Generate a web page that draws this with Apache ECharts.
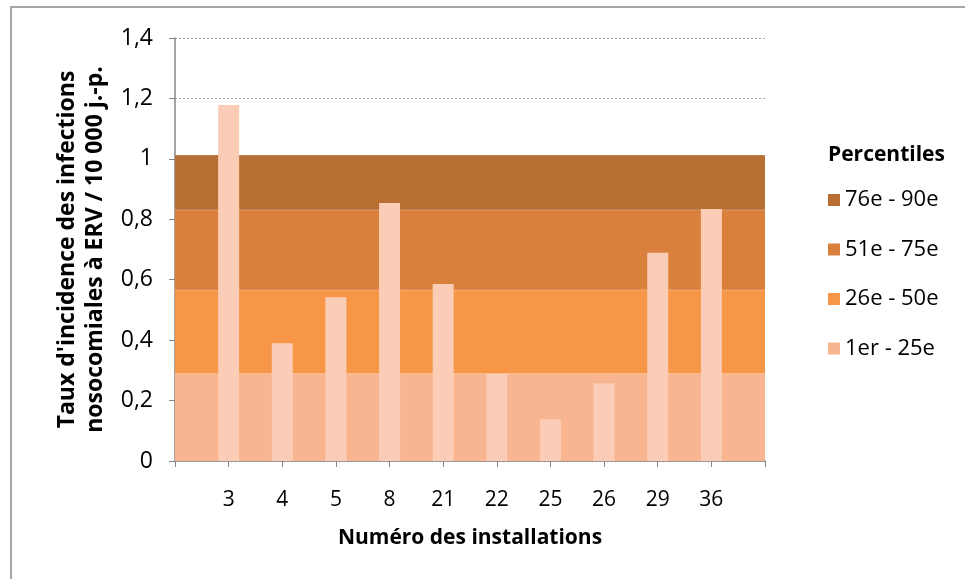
<!DOCTYPE html>
<html><head><meta charset="utf-8">
<script src="https://cdn.jsdelivr.net/npm/echarts@6/dist/echarts.min.js"></script>
<style>html,body{margin:0;padding:0;background:#fff}#c{width:965px;height:579px}</style>
</head><body><div id="c"></div>
<script>
var categories = ['', '3', '4', '5', '8', '21', '22', '25', '26', '29', '36', ''];
var rates = [null, 1.178, 0.39, 0.542, 0.854, 0.586, 0.288, 0.138, 0.257, 0.689, 0.834, null];
var bandNames = ['1er - 25e', '26e - 50e', '51e - 75e', '76e - 90e'];
var bandTops = [0.289, 0.566, 0.831, 1.013];
var bandColors = ['#F8B590', '#F79646', '#D9803D', '#B86F33'];
var yTicks = [0, 0.2, 0.4, 0.6, 0.8, 1, 1.2, 1.4];

var font = '"Open Sans", "Noto Sans", sans-serif';
var chart = echarts.init(document.getElementById('c'));
var series = [];
bandNames.forEach(function (n, i) {
  var thick = bandTops[i] - (i ? bandTops[i - 1] : 0);
  series.push({
    name: n, type: 'line', stack: 'bands', symbol: 'none', silent: true,
    lineStyle: { width: 1, color: 'rgba(255,255,255,0.25)' },
    areaStyle: { color: bandColors[i], opacity: 1 },
    itemStyle: { color: bandColors[i] },
    data: categories.map(function () { return +thick.toFixed(3); }),
    z: 2
  });
});
series.push({
  name: 'Taux', type: 'bar', barWidth: 21, data: rates,
  itemStyle: { color: '#FBCDB6' }, z: 5
});

chart.setOption({
  animation: false,
  textStyle: { fontFamily: font },
  grid: { left: 175, right: 200, top: 38, bottom: 118 },
  legend: {
    data: bandNames.slice().reverse(),
    orient: 'vertical', left: 823, top: 184, itemGap: 27.5,
    itemWidth: 12, itemHeight: 12, icon: 'rect',
    textStyle: { fontSize: 22, color: '#000', fontFamily: font, padding: [0, 0, 0, 0] }
  },
  graphic: [
    { type: 'text', left: 828, top: 145, style: { text: 'Percentiles', font: 'bold 21px ' + font, fill: '#000' } },
    { type: 'line', shape: { x1: 10, y1: 7, x2: 965, y2: 7 }, style: { stroke: '#A6A6A6', lineWidth: 2 } },
    { type: 'line', shape: { x1: 11, y1: 7, x2: 11, y2: 579 }, style: { stroke: '#A6A6A6', lineWidth: 2 } }
  ],
  xAxis: {
    type: 'category', data: categories, boundaryGap: false,
    name: 'Numéro des installations', nameLocation: 'middle', nameGap: 67,
    nameTextStyle: { fontSize: 21, fontWeight: 'bold', color: '#000', fontFamily: font },
    axisLine: { lineStyle: { color: '#868686', width: 1.5 } },
    axisTick: { alignWithLabel: true, length: 6, lineStyle: { color: '#868686' } },
    axisLabel: { fontSize: 21, color: '#000', margin: 29, interval: 0 },
    splitLine: { show: false }
  },
  yAxis: {
    type: 'value', min: 0, max: 1.4, interval: 0.2,
    name: "Taux d'incidence des infections\nnosocomiales à ERV / 10 000 j.-p.",
    nameLocation: 'middle', nameGap: 64, nameRotate: 90,
    nameTextStyle: { fontSize: 23, fontWeight: 'bold', color: '#000', lineHeight: 28, fontFamily: font },
    axisLine: { show: true, lineStyle: { color: '#868686', width: 1.5 } },
    axisTick: { show: true, length: 6, lineStyle: { color: '#868686' } },
    axisLabel: { fontSize: 23, color: '#000', margin: 22,
      formatter: function (v) { return String(+v.toFixed(1)).replace('.', ','); } },
    splitLine: { show: true, lineStyle: { color: '#A0A0A0', type: [2, 2], width: 1 } }
  },
  series: series
});
</script></body></html>
